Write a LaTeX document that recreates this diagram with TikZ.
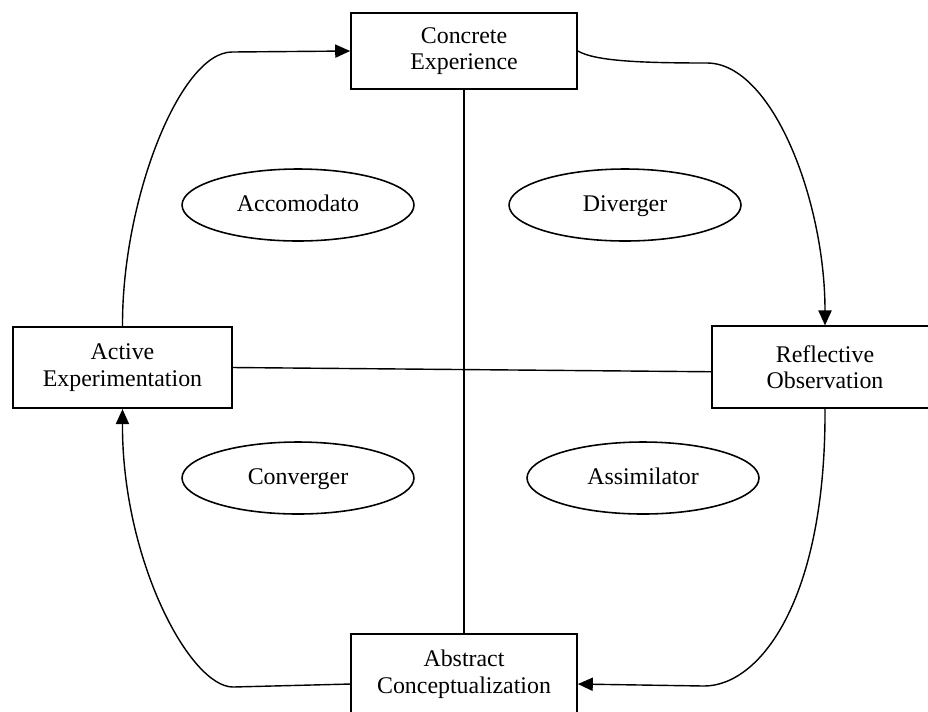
\documentclass[tikz,border=0pt]{standalone}
\usepackage{fontspec}
\setmainfont{Liberation Serif}
\usetikzlibrary{shapes.geometric,arrows.meta}

\begin{document}
\begin{tikzpicture}[x=0.02cm,y=-0.02cm,
	box/.style={draw,line width=1pt,minimum width=4.52cm,minimum height=1.52cm,align=center,font=\fontsize{13.6}{15.1}\selectfont},
	sidebox/.style={box,minimum width=4.38cm,minimum height=1.63cm},
	lstyle/.style={draw,ellipse,line width=.9pt,minimum width=4.64cm,minimum height=1.44cm,text height=10pt,text depth=3pt,font=\fontsize{13.6}{15.1}\selectfont},
	arr/.style={line width=.8pt,-{Triangle[length=8.5pt,width=7.5pt]}}]
	\useasboundingbox (0,0) rectangle (928,711);

	\node[box] (ce) at (464,51) {Concrete\\Experience};
	\node[box,minimum height=1.6cm] (ac) at (464,674) {Abstract\\Conceptualization};
	\node[sidebox] (ae) at (122.5,367.5) {Active\\Experimentation};
	\node[sidebox,minimum width=4.52cm] (ro) at (825,367) {Reflective\\Observation};

	\node[lstyle] (acc) at (298,205) {Accomodato};
	\node[lstyle] (div) at (625,205) {Diverger};
	\node[lstyle] (con) at (298,478) {Converger};
	\node[lstyle] (assim) at (643,478) {Assimilator};

	\draw[line width=.8pt] (ce.south) -- (ac.north);
	\draw[line width=.8pt] (ae.east) -- ([yshift=-2.7pt]ro.west);

	\draw[arr] (ae.north) .. controls (122,200) and (180,52) .. (232,52) -- (ce.west);
	\draw[arr] (ce.east) .. controls (595,61) and (640,63) .. (707,63) .. controls (772,63) and (825,200) .. (ro.north);
	\draw[arr] (ro.south) .. controls (826,600) and (760,686) .. (704,686) -- ([yshift=-5.7pt]ac.east);
	\draw[arr] ([yshift=-5.7pt]ac.west) -- (233,687) .. controls (190,687) and (122,560) .. (ae.south);
\end{tikzpicture}
\end{document}
